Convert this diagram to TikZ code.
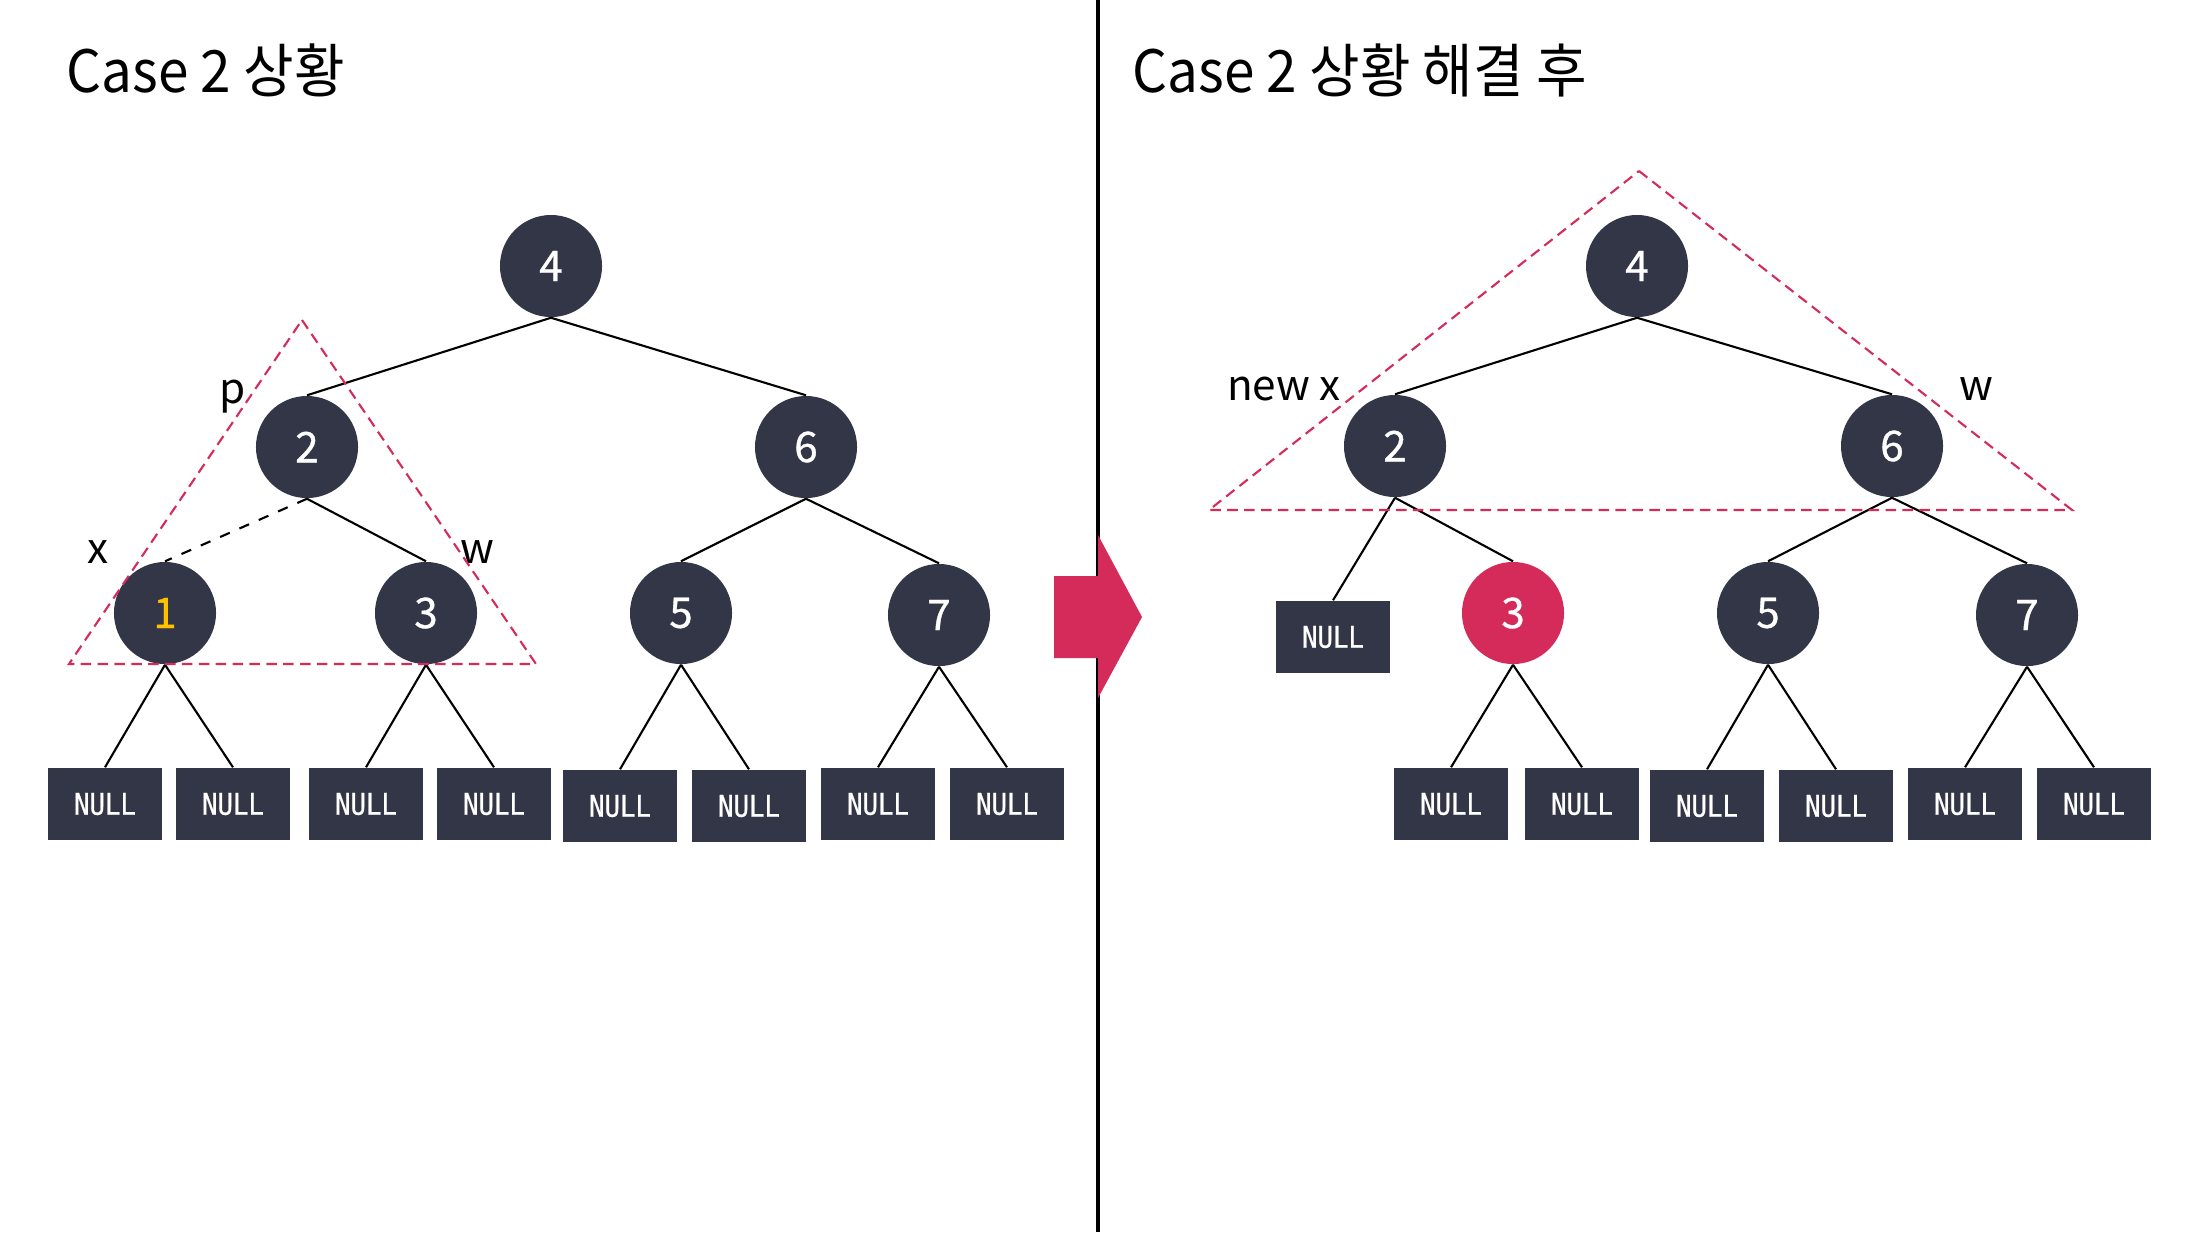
\documentclass[tikz,border=0pt]{standalone}
\usepackage{fontspec}
\setmainfont{Noto Sans CJK KR}
\newfontfamily\titlefnt[FakeStretch=0.94]{Noto Sans CJK KR}
\newfontfamily\digfnt[FakeBold=0.8]{Noto Sans CJK KR}
\newfontfamily\nulltxt[FakeStretch=0.86,FakeBold=0.8]{DejaVu Sans Mono}
\definecolor{navy}{HTML}{333647}
\definecolor{rosered}{HTML}{D52B5B}
\definecolor{gold}{HTML}{FFC000}
\begin{document}
\begin{tikzpicture}[x=0.01cm,y=-0.01cm,
 rb/.style={circle,fill=navy,minimum size=1.02cm,inner sep=0pt,text=white,font=\digfnt\fontsize{12}{14}\selectfont},
 nullbox/.style={rectangle,fill=navy,minimum width=1.14cm,minimum height=0.72cm,inner sep=0pt,text=white,font=\nulltxt\fontsize{8.5}{10}\selectfont},
 link/.style={line width=0.6pt},
 tri/.style={rosered,dash pattern=on 3pt off 1.8pt,line width=0.6pt},
 lbl/.style={anchor=base,inner sep=0pt,font=\fontsize{12}{14}\selectfont},
 ttl/.style={anchor=base west,inner sep=0pt,font=\titlefnt\fontsize{16.6}{20}\selectfont}]
\useasboundingbox (0,0) rectangle (2198,1232);
\fill[white] (0,0) rectangle (2198,1232);

% titles
\node[ttl] (t1) at (66,92) {Case 2 상황};
\node[ttl] (t2) at (1132,92) {Case 2 상황 해결 후};

% divider and arrow
\coordinate (dtop) at (1098,0);
\coordinate (dbot) at (1098,1232);
\draw[line width=1.15pt] (dtop) -- (dbot);
\fill[rosered] (1054,576) -- (1098,576) -- (1098,535) -- (1142,617) -- (1098,698) -- (1098,658) -- (1054,658) -- cycle;

% ---------- left tree ----------
\node[rb] (L4) at (551,266) {4};
\node[rb] (L2) at (307,447) {2};
\node[rb] (L6) at (806,447) {6};
\node[rb,text=gold] (L1) at (165,613) {1};
\node[rb] (L3) at (426,613) {3};
\node[rb] (L5) at (681,613) {5};
\node[rb] (L7) at (939,615) {7};
\node[nullbox] (LN1) at (105,804) {NULL};
\node[nullbox] (LN2) at (233,804) {NULL};
\node[nullbox] (LN3) at (366,804) {NULL};
\node[nullbox] (LN4) at (494,804) {NULL};
\node[nullbox] (LN5) at (620,806) {NULL};
\node[nullbox] (LN6) at (749,806) {NULL};
\node[nullbox] (LN7) at (878,804) {NULL};
\node[nullbox] (LN8) at (1007,804) {NULL};

\draw[link] (L4.south) -- (L2.north);
\draw[link] (L4.south) -- (L6.north);
\draw[link,dashed] (L2.south) -- (L1.north);
\draw[link] (L2.south) -- (L3.north);
\draw[link] (L6.south) -- (L5.north);
\draw[link] (L6.south) -- (L7.north);
\draw[link] (L1.south) -- (LN1.north);
\draw[link] (L1.south) -- (LN2.north);
\draw[link] (L3.south) -- (LN3.north);
\draw[link] (L3.south) -- (LN4.north);
\draw[link] (L5.south) -- (LN5.north);
\draw[link] (L5.south) -- (LN6.north);
\draw[link] (L7.south) -- (LN7.north);
\draw[link] (L7.south) -- (LN8.north);

\node[lbl] (lp) at (233,403) {p};
\node[lbl] (lx) at (98,563) {x};
\node[lbl] (lw) at (477,563) {w};

\draw[tri] (302,320) -- (536,664) -- (69,664) -- cycle;

% ---------- right tree ----------
\node[rb] (R4) at (1637,266) {4};
\node[rb] (R2) at (1395,446) {2};
\node[rb] (R6) at (1892,446) {6};
\node[nullbox] (RN0) at (1333,637) {NULL};
\node[rb,fill=rosered] (R3) at (1513,613) {3};
\node[rb] (R5) at (1768,613) {5};
\node[rb] (R7) at (2027,615) {7};
\node[nullbox] (RN1) at (1451,804) {NULL};
\node[nullbox] (RN2) at (1582,804) {NULL};
\node[nullbox] (RN3) at (1707,806) {NULL};
\node[nullbox] (RN4) at (1836,806) {NULL};
\node[nullbox] (RN5) at (1965,804) {NULL};
\node[nullbox] (RN6) at (2094,804) {NULL};

\draw[link] (R4.south) -- (R2.north);
\draw[link] (R4.south) -- (R6.north);
\draw[link] (R2.south) -- (RN0.north);
\draw[link] (R2.south) -- (R3.north);
\draw[link] (R6.south) -- (R5.north);
\draw[link] (R6.south) -- (R7.north);
\draw[link] (R3.south) -- (RN1.north);
\draw[link] (R3.south) -- (RN2.north);
\draw[link] (R5.south) -- (RN3.north);
\draw[link] (R5.south) -- (RN4.north);
\draw[link] (R7.south) -- (RN5.north);
\draw[link] (R7.south) -- (RN6.north);

\node[lbl] (rnx) at (1284,400) {new x};
\node[lbl] (rw) at (1976,400) {w};

\draw[tri] (1639,171) -- (2072,510) -- (1209,510) -- cycle;
\end{tikzpicture}
\end{document}
